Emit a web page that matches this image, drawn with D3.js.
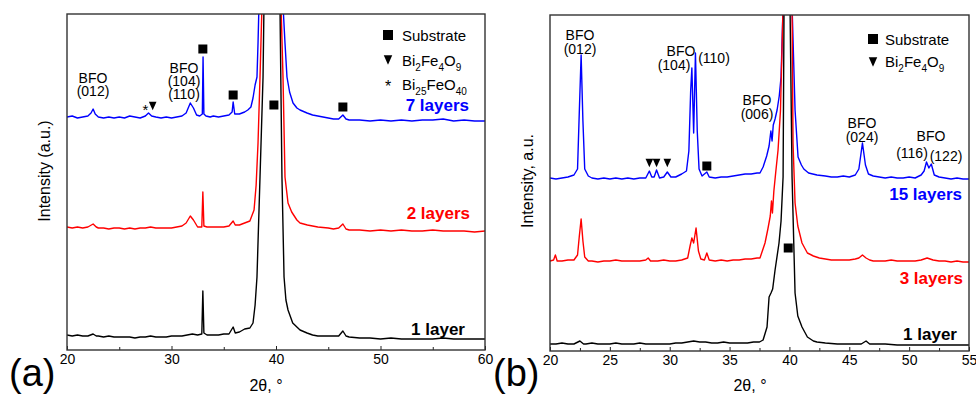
<!DOCTYPE html>
<html><head><meta charset="utf-8">
<script src="https://cdn.jsdelivr.net/npm/d3@7/dist/d3.min.js"></script>
<style>
html,body{margin:0;padding:0;background:#fff;}
svg{display:block;font-family:"Liberation Sans",Arial,sans-serif;}
</style></head>
<body><svg id="chart" width="976" height="394"></svg>
<script>
// ---------- DATA (2θ in degrees, intensity in a.u.) ----------
const ticksA = [20, 30, 40, 50, 60];
const minorTicksA = [25, 35, 45, 55];
const ticksB = [20, 25, 30, 35, 40, 45, 50, 55];
const minorTicksB = [22.5, 27.5, 32.5, 37.5, 42.5, 47.5, 52.5];

const seriesNamesA = ["7 layers", "2 layers", "1 layer"];
const seriesNamesB = ["15 layers", "3 layers", "1 layer"];
const seriesColors = ["#0000ff", "#ff0000", "#000000"];

const a7layers = [[20,233],[20.5,234],[21,232],[21.5,233],[22,234],[22.3,237],[22.5,241],[22.7,236],[23,233],[23.5,232],[24,233],[24.5,232],[25,233],[25.5,232],[26,234],[26.5,233],[27,232],[27.5,234],[27.8,237],[28.1,234],[28.5,233],[29,232],[29.5,233],[30,232],[30.5,233],[31,234],[31.4,237],[31.8,247],[32.1,242],[32.4,235],[32.7,234],[32.95,236],[33.02,293],[33.1,236],[33.3,234],[33.7,233],[34,234],[34.5,233],[35,234],[35.5,235],[35.8,238],[35.9,248],[36.05,236],[36.5,236],[37,238],[37.3,240],[37.6,243],[37.8,252],[38.0,265],[38.18,273],[38.28,307],[38.37,345],[38.5,2000],[40.5,2000],[40.67,345],[40.86,307],[41.05,273],[41.3,258],[41.63,247],[42,242],[42.3,240],[42.97,237],[43.5,235],[44,234],[44.5,233],[45,232],[45.5,231],[46,231],[46.4,235],[46.7,231],[47,230],[48,230],[49,229],[50,230],[51,229],[52,230],[53,229],[54,230],[55,230],[56,231],[57,229],[58,230],[59,229],[60,229]];
const a2layers = [[20,123],[20.5,122],[21,123],[21.5,122],[22,123],[22.5,126],[22.8,123],[23,122],[23.5,122],[24,121],[24.5,122],[25,122],[25.5,121],[26,122],[26.5,121],[27,122],[27.5,122],[28,123],[28.5,122],[29,122],[29.5,122],[30,122],[30.5,123],[31,124],[31.4,127],[31.8,134],[32.1,130],[32.5,123],[32.9,123],[33.0,158],[33.1,124],[33.4,123],[34,123],[34.5,123],[35,123],[35.5,124],[35.9,129],[36.1,125],[36.5,125],[37,127],[37.5,129],[37.9,140],[38.1,165],[38.28,207],[38.47,273],[38.66,345],[38.8,2000],[40.3,2000],[40.48,345],[40.67,273],[40.86,173],[41.15,147],[41.5,138],[42,130],[42.3,127],[43,125],[43.5,124],[44,123],[45,122],[45.5,121],[46,122],[46.4,126],[46.7,121],[47,120],[48,120],[49,119],[50,120],[51,119],[52,120],[53,119],[54,119],[55,120],[56,119],[57,119],[58,119],[59,118],[60,119]];
const a1layer = [[20,15],[20.5,14],[21,15],[21.5,14],[22,14],[22.5,16],[22.8,14],[23,14],[23.5,13],[24,14],[24.5,13],[25,13],[25.5,13],[26,13],[26.5,12],[27,13],[27.5,13],[28,14],[28.5,13],[29,13],[29.5,13],[30,14],[30.5,14],[31,14],[31.5,15],[32,16],[32.5,15],[32.9,16],[33.0,59],[33.1,17],[33.4,15],[34,15],[34.5,15],[35,16],[35.5,16],[35.9,23],[36.1,17],[36.5,18],[37,21],[37.5,22],[37.8,27],[38.0,45],[38.18,73],[38.47,173],[38.76,273],[38.85,345],[39,2000],[40.2,2000],[40.38,345],[40.57,173],[40.77,73],[40.95,50],[41.15,40],[41.6,27],[42.3,20],[42.97,17],[43.5,15],[44,14],[45,14],[46,14],[46.4,19],[46.7,14],[47,13],[48,12],[49,12],[50,11],[51,12],[52,11],[53,11],[54,11],[55,11],[56,12],[57,11],[58,11],[59,11],[60,11]];

const b15layers = [[20,173],[20.5,172],[21,173],[21.5,174],[22,176],[22.3,182],[22.45,240],[22.6,296],[22.75,230],[22.9,182],[23.2,175],[23.5,173],[24,172],[24.5,173],[25,172],[25.5,173],[26,172],[26.5,173],[27,172],[27.5,173],[28,173],[28.3,180],[28.5,174],[28.7,174],[28.9,181],[29.15,173],[29.5,174],[29.8,179],[30.1,174],[30.5,174],[31,177],[31.4,180],[31.6,200],[31.75,260],[31.85,283],[32.0,218],[32.15,298],[32.3,220],[32.45,182],[32.7,175],[33.1,179],[33.3,174],[33.8,173],[34.3,174],[34.8,174],[35.3,175],[35.8,176],[36.3,177],[36.8,177],[37.3,178],[37.54,178],[37.8,184],[38.1,195],[38.3,205],[38.45,220],[38.55,210],[38.65,226],[38.8,232],[38.97,241],[39.15,255],[39.3,274],[39.47,345],[39.6,2000],[40.1,2000],[40.22,345],[40.47,241],[40.72,194],[41,186],[41.2,182],[41.6,178],[42.3,176],[43,175],[43.5,174],[44,174],[44.5,175],[45,174],[45.5,176],[45.8,182],[46.1,208],[46.35,186],[46.6,177],[47,175],[47.5,174],[48,173],[48.5,174],[49,173],[49.5,173],[50,174],[50.5,173],[51,176],[51.25,180],[51.45,189],[51.65,183],[51.85,187],[52.1,176],[52.5,174],[53,173],[53.5,172],[54,173],[54.5,172],[55,172]];
const b3layers = [[20,90],[20.3,91],[20.45,96],[20.6,90],[21,90],[21.5,91],[22,91],[22.3,96],[22.45,115],[22.6,132],[22.75,110],[22.9,94],[23.2,90],[23.5,90],[24,89],[24.5,90],[25,90],[25.5,91],[26,90],[26.5,90],[27,90],[27.5,90],[28,91],[28.2,93],[28.4,90],[29,90],[29.5,91],[30,90],[30.5,90],[31,91],[31.5,93],[31.7,105],[31.85,113],[32.0,108],[32.2,123],[32.4,100],[32.6,92],[32.9,91],[33.1,98],[33.3,91],[33.8,90],[34.3,91],[34.8,90],[35.3,91],[35.8,91],[36.3,92],[36.8,92],[37.3,93],[37.54,93],[37.96,108],[38.2,122],[38.4,135],[38.5,150],[38.58,138],[38.7,160],[38.85,178],[39.05,201],[39.25,240],[39.47,345],[39.6,2000],[40.1,2000],[40.22,345],[40.3,208],[40.47,148],[40.7,125],[41.05,108],[41.5,98],[42,95],[42.5,93],[43,92],[43.5,91],[44,91],[44.5,91],[45,91],[45.5,92],[45.8,93],[46.1,96],[46.4,93],[46.7,91],[47,90],[47.5,90],[48,90],[48.5,91],[49,90],[49.5,90],[50,90],[50.5,90],[51,91],[51.5,93],[52,91],[52.5,90],[53,90],[53.5,89],[54,90],[54.5,89],[55,89]];
const b1layer = [[20,7],[20.5,7],[21,8],[21.5,7],[22,7],[22.5,10],[22.8,7],[23,7],[23.5,8],[24,7],[24.5,7],[25,7],[25.5,8],[26,7],[26.5,7],[27,7],[27.5,8],[28,7],[28.5,7],[29,7],[29.5,7],[30,7],[30.5,8],[31,8],[31.5,9],[32,10],[32.5,9],[33,9],[33.5,8],[34,8],[34.5,9],[35,8],[35.5,8],[36,8],[36.5,8],[37,9],[37.5,9],[37.8,11],[38.13,24],[38.3,54],[38.46,58],[38.6,62],[38.8,81],[39.13,108],[39.3,130],[39.47,174],[39.55,345],[39.65,2000],[39.95,2000],[40.05,345],[40.22,174],[40.47,58],[40.7,35],[41.05,24],[41.5,14],[42,10],[42.3,9],[43,8],[44,7],[45,7],[45.5,7],[46,7],[46.4,10],[46.7,7],[47,7],[48,7],[49,6],[50,6],[51,6],[52,6],[53,6],[54,6],[55,6]];

// marker annotations: [2θ, intensity-position, type]
const markersA = [[33.0, 301, "sq"], [35.9, 255, "sq"], [39.8, 245, "sq"], [46.4, 243, "sq"], [28.2, 244, "tri"]];
const markersB = [[28.3, 188, "tri"], [28.9, 188, "tri"], [29.8, 188, "tri"], [33.1, 185, "sq"], [39.9, 103, "sq"]];

// ---------- DRAW ----------
const svg = d3.select("#chart");

function drawMarker(g, cx, cy, type, s) {
  if (type === "sq") {
    g.append("rect").attr("x", cx - s / 2).attr("y", cy - s / 2).attr("width", s).attr("height", s).attr("fill", "#000");
  } else if (type === "tri") {
    const w = s * 0.85, h = s * 0.95;
    g.append("path").attr("d", `M${cx - w / 2},${cy - h / 2}L${cx + w / 2},${cy - h / 2}L${cx},${cy + h / 2}Z`).attr("fill", "#000");
  }
}

function panel(cfg) {
  const x = d3.scaleLinear().domain(cfg.xDomain).range([cfg.left, cfg.right]);
  const y = d3.scaleLinear().domain([0, 336]).range([cfg.bottom, cfg.top]);
  const g = svg.append("g");
  const clipId = "clip" + cfg.id;
  svg.append("defs").append("clipPath").attr("id", clipId)
    .append("rect").attr("x", cfg.left).attr("y", cfg.top)
    .attr("width", cfg.right - cfg.left).attr("height", cfg.bottom - cfg.top);

  const line = d3.line().x(d => x(d[0])).y(d => y(d[1]));
  const lines = g.append("g").attr("clip-path", `url(#${clipId})`);
  cfg.series.forEach((s, i) => {
    lines.append("path").datum(s).attr("d", line)
      .attr("fill", "none").attr("stroke", seriesColors[i])
      .attr("stroke-width", 1.4).attr("stroke-linejoin", "round");
  });

  const ax = g.append("g").attr("transform", `translate(0,${cfg.bottom})`)
    .call(d3.axisBottom(x).tickValues(cfg.ticks).tickSize(-4).tickPadding(4).tickFormat(d3.format("d")));
  ax.select(".domain").remove();
  ax.selectAll("text").attr("font-size", 14).attr("font-family", '"Liberation Sans",Arial,sans-serif').attr("fill", "#000");
  ax.selectAll("line").attr("stroke", "#222");
  const axm = g.append("g").attr("transform", `translate(0,${cfg.bottom})`)
    .call(d3.axisBottom(x).tickValues(cfg.minor).tickSize(-3).tickFormat(""));
  axm.select(".domain").remove();
  axm.selectAll("text").remove();
  axm.selectAll("line").attr("stroke", "#222");

  g.append("rect").attr("x", cfg.left).attr("y", cfg.top)
    .attr("width", cfg.right - cfg.left).attr("height", cfg.bottom - cfg.top)
    .attr("fill", "none").attr("stroke", "#333").attr("stroke-width", 1.4);

  cfg.names.forEach((n, i) => {
    g.append("text").attr("x", cfg.labelPos[i][0]).attr("y", cfg.labelPos[i][1])
      .attr("text-anchor", "end").attr("font-weight", "bold").attr("font-size", 17)
      .attr("fill", seriesColors[i]).text(n);
  });

  cfg.markers.forEach(m => drawMarker(g, x(m[0]), y(m[1]), m[2], 9));

  g.append("text").attr("x", cfg.xTitle[0]).attr("y", cfg.xTitle[1]).attr("text-anchor", "middle")
    .attr("font-size", 16).text("2θ, °");
  g.append("text").attr("transform", `translate(${cfg.yTitle[0]},${cfg.yTitle[1]}) rotate(-90)`)
    .attr("text-anchor", "middle").attr("font-size", 16).text(cfg.yTitleText);
  g.append("text").attr("x", cfg.tag[0]).attr("y", cfg.tag[1]).attr("font-size", 38).text(cfg.tagText);

  return { x, y, g };
}

function addTexts(g, items, size) {
  items.forEach(l => {
    g.append("text").attr("x", l[0]).attr("y", l[1]).attr("text-anchor", "middle")
      .attr("font-size", size).text(l[2]);
  });
}

function chemText(g, x, y, parts, size) {
  const t = g.append("text").attr("x", x).attr("y", y).attr("font-size", size);
  const shift = Math.round(size * 0.3);
  let lowered = false;
  parts.forEach(p => {
    const sp = t.append("tspan").text(p[0]);
    if (p[1]) {
      sp.attr("font-size", Math.round(size * 0.68));
      if (!lowered) { sp.attr("dy", shift); lowered = true; }
    } else {
      sp.attr("font-size", size);
      if (lowered) { sp.attr("dy", -shift); lowered = false; }
    }
  });
}

// Panel (a)
const A = panel({
  id: "a", xDomain: [20, 60], left: 67, right: 485, top: 14, bottom: 350,
  series: [a7layers, a2layers, a1layer], names: seriesNamesA,
  ticks: ticksA, minor: minorTicksA,
  labelPos: [[469, 111], [470, 219], [465, 335]],
  markers: markersA,
  xTitle: [266, 391], yTitle: [50, 171], yTitleText: "Intensity (a.u.)",
  tag: [9, 386], tagText: "(a)"
});
addTexts(A.g, [[93, 82.5, "BFO"], [93, 96, "(012)"], [184, 72.5, "BFO"], [184, 86, "(104)"], [184, 99, "(110)"]], 14);
addTexts(A.g, [[A.x(27.5), A.y(235), "*"]], 15);
drawMarker(A.g, 388, 35, "sq", 10);
drawMarker(A.g, 388, 60, "tri", 10);
addTexts(A.g, [[388, 92, "*"]], 16);
chemText(A.g, 402, 41, [["Substrate", 0]], 15);
chemText(A.g, 402, 66, [["Bi", 0], ["2", 1], ["Fe", 0], ["4", 1], ["O", 0], ["9", 1]], 15);
chemText(A.g, 402, 90, [["Bi", 0], ["25", 1], ["FeO", 0], ["40", 1]], 15);

// Panel (b)
const B = panel({
  id: "b", xDomain: [20, 55], left: 550, right: 969, top: 15, bottom: 351,
  series: [b15layers, b3layers, b1layer], names: seriesNamesB,
  ticks: ticksB, minor: minorTicksB,
  labelPos: [[962, 200], [963, 284], [957, 340]],
  markers: markersB,
  xTitle: [750, 391], yTitle: [533, 181], yTitleText: "Intensity, a.u.",
  tag: [493, 386], tagText: "(b)"
});
addTexts(B.g, [[580, 40, "BFO"], [580, 54, "(012)"], [681, 56, "BFO"], [674, 70, "(104)"], [714, 63, "(110)"],
 [757, 105, "BFO"], [757, 119, "(006)"], [862, 128, "BFO"], [862, 142, "(024)"],
 [931, 141, "BFO"], [912, 158, "(116)"], [946, 161, "(122)"]], 14);
drawMarker(B.g, 873, 39, "sq", 10);
drawMarker(B.g, 873, 62, "tri", 10);
chemText(B.g, 885, 45, [["Substrate", 0]], 15);
chemText(B.g, 885, 67, [["Bi", 0], ["2", 1], ["Fe", 0], ["4", 1], ["O", 0], ["9", 1]], 15);
</script>
</body></html>
